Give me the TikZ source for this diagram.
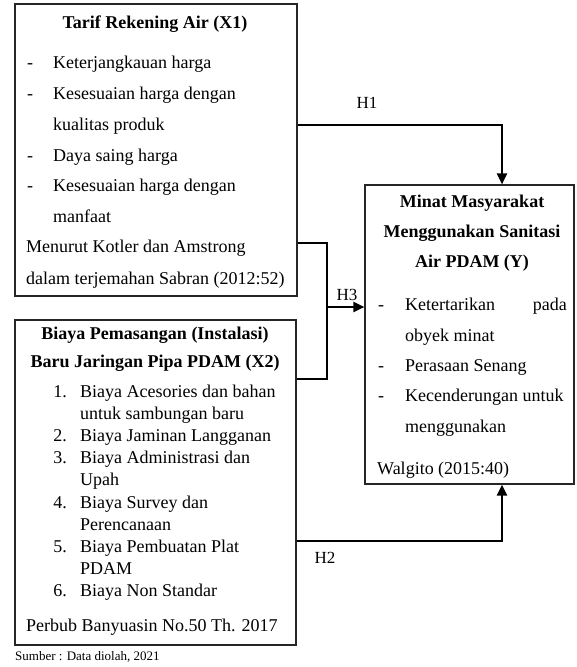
\documentclass[tikz,border=0pt]{standalone}
\usepackage{fontspec}
\setmainfont{Liberation Serif}
\usetikzlibrary{arrows.meta}
\begin{document}
\begin{tikzpicture}[x=1pt,y=-1pt,
  box/.style={draw=black!85,line width=1.1pt,inner sep=0pt},
  txt/.style={anchor=west,inner sep=0pt,text height=12pt,text depth=4pt,font=\fontsize{18}{21}\selectfont},
  txtr/.style={txt,anchor=east},
  ttl/.style={anchor=center,inner sep=0pt,text height=12pt,text depth=4pt,font=\fontsize{18}{21}\selectfont\bfseries},
  lbl/.style={anchor=center,inner sep=0pt,font=\fontsize{17}{20}\selectfont},
  wire/.style={line width=2.4pt,black},
  conn/.style={wire,-{Triangle[length=11pt,width=10pt]}},
]
\useasboundingbox (0,0) rectangle (576,667);

% boxes
\node[box,minimum width=282pt,minimum height=292pt] (x1) at (156,150) {};
\node[box,minimum width=281pt,minimum height=325pt] (x2) at (155.5,482.5) {};
\node[box,minimum width=209pt,minimum height=299pt] (y) at (469.5,334.5) {};

% X1 text
\node[ttl] (x1t) at (155,24) {Tarif Rekening Air (X1)};
\node[txt] (x1d1) at (27,64) {-};
\node[txt] (x1a) at (53,64) {Keterjangkauan harga};
\node[txt] (x1d2) at (27,95) {-};
\node[txt] (x1b) at (53,95) {Kesesuaian harga dengan};
\node[txt] (x1b2) at (53,126) {kualitas produk};
\node[txt] (x1d3) at (27,157) {-};
\node[txt] (x1c) at (53,157) {Daya saing harga};
\node[txt] (x1d4) at (27,187) {-};
\node[txt] (x1e) at (53,187) {Kesesuaian harga dengan};
\node[txt] (x1e2) at (53,218) {manfaat};
\node[txt] (x1s1) at (26,248) {Menurut Kotler dan Amstrong};
\node[txt] (x1s2) at (26,280) {dalam terjemahan Sabran (2012:52)};

% X2 text
\node[ttl] (x2t1) at (155,335) {Biaya Pemasangan (Instalasi)};
\node[ttl] (x2t2) at (155,363) {Baru Jaringan Pipa PDAM (X2)};
\node[txtr] (n1) at (67,393) {1.};
\node[txt] (i1a) at (80,393) {Biaya Acesories dan bahan};
\node[txt] (i1b) at (80,415.2) {untuk sambungan baru};
\node[txtr] (n2) at (67,437.4) {2.};
\node[txt] (i2) at (80,437.4) {Biaya Jaminan Langganan};
\node[txtr] (n3) at (67,459.6) {3.};
\node[txt] (i3a) at (80,459.6) {Biaya Administrasi dan};
\node[txt] (i3b) at (80,481.8) {Upah};
\node[txtr] (n4) at (67,504) {4.};
\node[txt] (i4a) at (80,504) {Biaya Survey dan};
\node[txt] (i4b) at (80,526.2) {Perencanaan};
\node[txtr] (n5) at (67,548.4) {5.};
\node[txt] (i5a) at (80,548.4) {Biaya Pembuatan Plat};
\node[txt] (i5b) at (80,570.6) {PDAM};
\node[txtr] (n6) at (67,592.8) {6.};
\node[txt] (i6) at (80,592.8) {Biaya Non Standar};
\node[txt] (x2s) at (26,627) {Perbub Banyuasin No.50 Th. 2017};

% Y text
\node[ttl] (yt1) at (472,203) {Minat Masyarakat};
\node[ttl] (yt2) at (472,233) {Menggunakan Sanitasi};
\node[ttl] (yt3) at (472,263) {Air PDAM (Y)};
\node[txt] (yd1) at (378,306) {-};
\node[txt] (ya) at (405,306) {Ketertarikan};
\node[txtr] (ya2) at (567,306) {pada};
\node[txt] (ya3) at (405,337) {obyek minat};
\node[txt] (yd2) at (378,367) {-};
\node[txt] (yb) at (405,367) {Perasaan Senang};
\node[txt] (yd3) at (378,397) {-};
\node[txt] (yc) at (405,397) {Kecenderungan untuk};
\node[txt] (yc2) at (405,428) {menggunakan};
\node[txt] (ys) at (377,470) {Walgito (2015:40)};

% source
\node[anchor=west,inner sep=0pt,font=\fontsize{13}{15}\selectfont] (src) at (15,657) {Sumber : Data diolah, 2021};

% connectors
\draw[conn] (x1.east |- 0,125) -| (y.north -| 502,0);
\draw[wire] (x1.east |- 0,243) -| (327,379) -- (x2.east |- 0,379);
\coordinate (h3s) at (327,307);
\draw[conn] (h3s) -- (y.west |- h3s);
\draw[conn] (x2.east |- 0,541) -| (y.south -| 502,0);

% labels
\node[lbl] (h1) at (367,103) {H1};
\node[lbl] (h3) at (347,295) {H3};
\node[lbl] (h2) at (325,558) {H2};
\end{tikzpicture}
\end{document}
